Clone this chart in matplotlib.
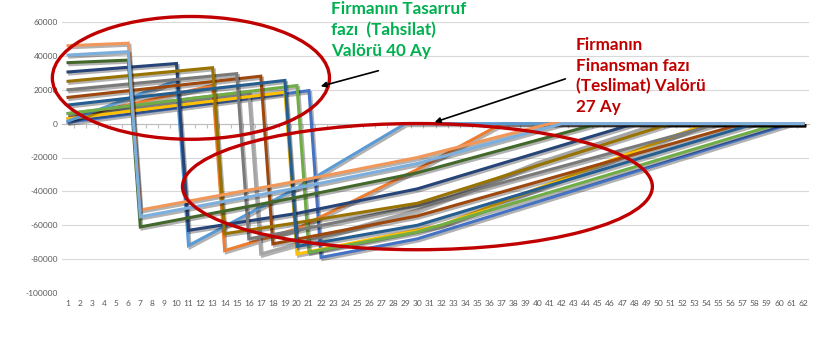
import matplotlib
matplotlib.use("Agg")
import matplotlib.pyplot as plt
import matplotlib.patheffects as pe
from matplotlib.patches import Ellipse

# ay numaralari (kategori ekseni)
aylar = list(range(1, 63))
y_ticks = [60000, 40000, 20000, 0, -20000, -40000, -60000, -80000, -100000]

# her seri: kirilma noktalari (ay, bakiye)
s_mavi_x = [1, 21, 22, 30, 61, 62]
s_mavi_y = [800, 19500, -79000, -68000, 0, 0]
s_turuncu_x = [1, 13, 14, 20, 30, 37, 62]
s_turuncu_y = [3000, 22500, -75000, -62000, -27000, 0, 0]
s_gri_x = [1, 16, 17, 30, 40, 50, 62]
s_gri_y = [6000, 19000, -77000, -51000, -23000, 0, 0]
s_altin_x = [1, 19, 20, 32, 54, 62]
s_altin_y = [3000, 18500, -77000, -60000, 0, 0]
s_acikmavi_x = [1, 10, 11, 20, 29, 62]
s_acikmavi_y = [1500, 25500, -72000, -38000, 0, 0]
s_yesil_x = [1, 20, 21, 30, 60, 62]
s_yesil_y = [6000, 22500, -76000, -64000, 0, 0]
s_koyumavi_x = [1, 10, 11, 20, 30, 48, 62]
s_koyumavi_y = [30500, 35500, -63000, -53000, -38500, 0, 0]
s_kahve_x = [1, 17, 18, 30, 57, 62]
s_kahve_y = [15500, 28000, -71000, -54500, 0, 0]
s_koyugri_x = [1, 15, 16, 20, 30, 55, 62]
s_koyugri_y = [20000, 29500, -68000, -63000, -48500, 0, 0]
s_hardal_x = [1, 13, 14, 20, 30, 51, 62]
s_hardal_y = [25000, 33000, -65000, -58500, -47000, 0, 0]
s_petrol_x = [1, 19, 20, 30, 58, 62]
s_petrol_y = [11000, 25500, -72500, -60000, 0, 0]
s_koyuyesil_x = [1, 6, 7, 20, 30, 45, 62]
s_koyuyesil_y = [36000, 37500, -61000, -43500, -29000, 0, 0]
s_somon_x = [1, 6, 7, 20, 30, 41, 62]
s_somon_y = [46000, 47500, -51000, -34000, -20000, 0, 0]
s_buz_x = [1, 6, 7, 20, 30, 42, 62]
s_buz_y = [40500, 42500, -55000, -38000, -23500, 0, 0]

seriler = [
    (s_mavi_x, s_mavi_y, "#4472C4"),
    (s_turuncu_x, s_turuncu_y, "#ED7D31"),
    (s_gri_x, s_gri_y, "#A5A5A5"),
    (s_altin_x, s_altin_y, "#FFC000"),
    (s_acikmavi_x, s_acikmavi_y, "#5B9BD5"),
    (s_yesil_x, s_yesil_y, "#70AD47"),
    (s_koyumavi_x, s_koyumavi_y, "#264478"),
    (s_kahve_x, s_kahve_y, "#9E480E"),
    (s_koyugri_x, s_koyugri_y, "#7A7A7A"),
    (s_hardal_x, s_hardal_y, "#997300"),
    (s_petrol_x, s_petrol_y, "#255E91"),
    (s_koyuyesil_x, s_koyuyesil_y, "#43682B"),
    (s_somon_x, s_somon_y, "#F1975A"),
    (s_buz_x, s_buz_y, "#7CAFDD"),
]

plt.rcParams['font.family'] = ['Lato', 'DejaVu Sans']

W, H = 834, 338
fig = plt.figure(figsize=(W / 100, H / 100), dpi=100)
ax = fig.add_axes([62 / W, 1 - 293 / H, 747 / W, 271 / H])

golge = [pe.SimpleLineShadow(offset=(1.2, -1.5), shadow_color='black', alpha=0.3),
         pe.Normal()]

for i, (xs, ys, renk) in enumerate(seriler):
    ax.plot(xs, ys, color=renk, lw=2.2, solid_joinstyle='miter',
            path_effects=golge, zorder=3 + i * 0.01)

ax.set_xlim(0.5, 62.5)
ax.set_ylim(-100000, 60000)
ax.set_yticks(y_ticks)
ax.set_yticklabels([str(v) for v in y_ticks])
ax.grid(axis='y', color='#D9D9D9', lw=0.8, zorder=0)
ax.tick_params(axis='y', length=0, labelsize=6, labelcolor='#595959', pad=3)

for s in ['top', 'right', 'left']:
    ax.spines[s].set_visible(False)
ax.spines['bottom'].set_position(('data', 0))
ax.spines['bottom'].set_color('#BFBFBF')
ax.spines['bottom'].set_zorder(2)
ax.set_xticks([a + 0.5 for a in aylar[:-1]])
ax.set_xticklabels([])
ax.tick_params(axis='x', length=3, color='#BFBFBF', direction='out')

sec = ax.secondary_xaxis(0.0)
sec.set_xticks(aylar)
sec.set_xticklabels([str(a) for a in aylar])
sec.tick_params(length=0, labelsize=6, labelcolor='#595959', pad=5)
sec.spines['bottom'].set_visible(False)

# kirmizi elipsler
e1 = Ellipse((11.2, 27000), 23, 72500, fill=False, ec='#C00000', lw=2.4,
             clip_on=False, zorder=10)
e2 = Ellipse((30.0, -37200), 39, 74500, fill=False, ec='#C00000', lw=2.4,
             clip_on=False, zorder=10)
ax.add_patch(e1)
ax.add_patch(e2)

fig.text(331 / W, 1 - 1 / H, "Firmanın Tasarruf\nfazı  (Tahsilat)\nValörü 40 Ay",
         color='#00B050', fontsize=12.3, fontweight='bold', va='top', ha='left',
         linespacing=1.35)
fig.text(576 / W, 1 - 37 / H, "Firmanın\nFinansman fazı\n(Teslimat) Valörü\n27 Ay",
         color='#C00000', fontsize=12.3, fontweight='bold', va='top', ha='left',
         linespacing=1.35)

ok = dict(arrowstyle='-|>', color='black', lw=1.2, mutation_scale=8)
ax.annotate('', xy=(318, H - 87), xytext=(381, H - 70), xycoords='figure pixels',
            textcoords='figure pixels', arrowprops=ok, zorder=11)
ax.annotate('', xy=(432, H - 123), xytext=(568, H - 78), xycoords='figure pixels',
            textcoords='figure pixels', arrowprops=ok, zorder=11)

fig.savefig('out.png', dpi=100)
